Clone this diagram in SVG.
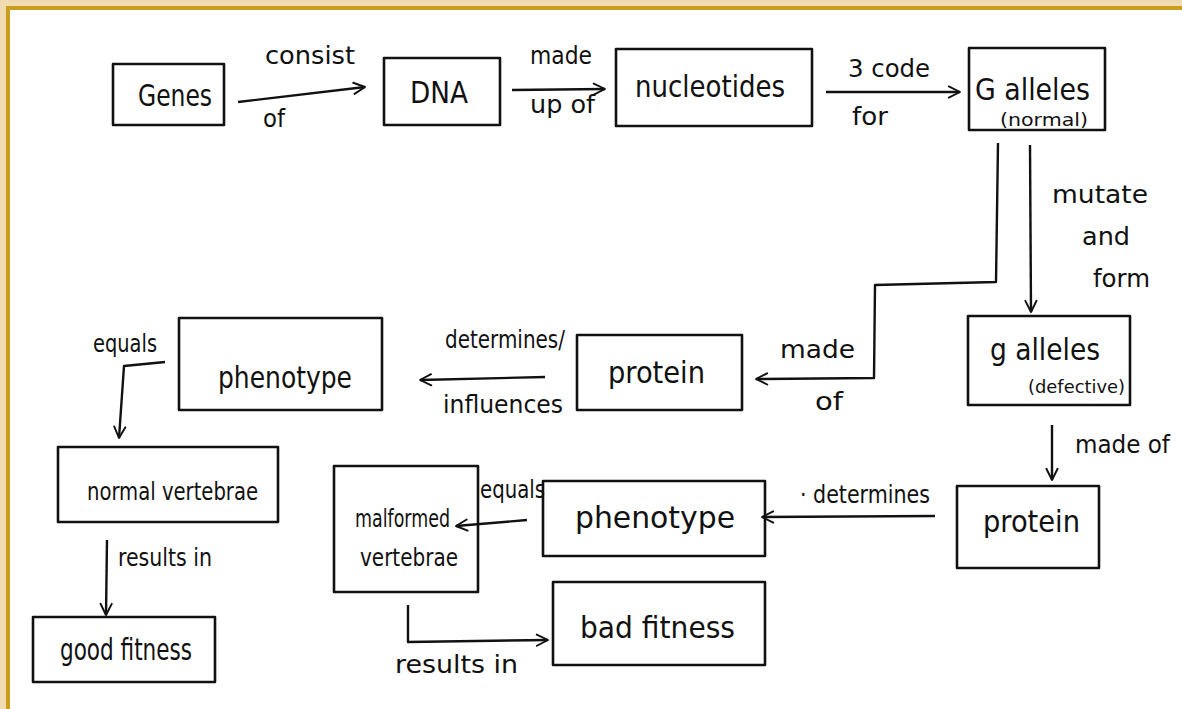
<svg xmlns="http://www.w3.org/2000/svg" width="1182" height="709" viewBox="0 0 1182 709">
<style>
.box{fill:none;stroke:#111;stroke-width:2.6;stroke-linejoin:round}
.edge{fill:none;stroke:#111;stroke-width:2.4;stroke-linejoin:round}
.t{font-family:"DejaVu Sans Condensed","Liberation Sans",sans-serif;fill:#111;text-anchor:start}
.n{font-size:30px}
.l{font-size:25px}
.s{font-size:17px}
</style>
<defs>
<marker id="ah" viewBox="0 0 20 20" refX="18" refY="10" markerWidth="16" markerHeight="16" markerUnits="userSpaceOnUse" orient="auto">
<path d="M4,3 L18,10 L4,17" fill="none" stroke="#111" stroke-width="2.4" stroke-linecap="round" stroke-linejoin="round"/>
</marker>
</defs>
<rect x="0" y="0" width="1182" height="709" fill="#fff"/>
<rect x="0" y="0" width="1182" height="6" fill="#f0dab2"/>
<rect x="0" y="0" width="6" height="709" fill="#f0dab2"/>
<rect x="6" y="6" width="1176" height="4" fill="#c99e1e"/>
<rect x="6" y="6" width="4" height="703" fill="#c99e1e"/>

<g id="connectors">
<path class="edge" d="M238,102 L365,87" marker-end="url(#ah)"/>
<path class="edge" d="M512,90 L605,89" marker-end="url(#ah)"/>
<path class="edge" d="M826,92 L960,92" marker-end="url(#ah)"/>
<path class="edge" d="M998,143 L996,282 L875,285 L874,378 L756,379" marker-end="url(#ah)"/>
<path class="edge" d="M1030,145 L1031,312" marker-end="url(#ah)"/>
<path class="edge" d="M1052,425 L1052,480" marker-end="url(#ah)"/>
<path class="edge" d="M935,516 L762,517" marker-end="url(#ah)"/>
<path class="edge" d="M527,520 L456,526" marker-end="url(#ah)"/>
<path class="edge" d="M408,605 L408,642 L548,640" marker-end="url(#ah)"/>
<path class="edge" d="M545,377 L420,380" marker-end="url(#ah)"/>
<path class="edge" d="M165,362 L124,366 L119,438" marker-end="url(#ah)"/>
<path class="edge" d="M107,540 L106,615" marker-end="url(#ah)"/>
<text class="t l" x="265" y="64" textLength="90" lengthAdjust="spacingAndGlyphs">consist</text>
<text class="t l" x="263" y="127" textLength="22" lengthAdjust="spacingAndGlyphs">of</text>
<text class="t l" x="530" y="64" textLength="62" lengthAdjust="spacingAndGlyphs">made</text>
<text class="t l" x="530" y="113" textLength="65" lengthAdjust="spacingAndGlyphs">up of</text>
<text class="t l" x="848" y="77" textLength="82" lengthAdjust="spacingAndGlyphs">3 code</text>
<text class="t l" x="852" y="125" textLength="36" lengthAdjust="spacingAndGlyphs">for</text>
<text class="t l" x="1052" y="203" textLength="96" lengthAdjust="spacingAndGlyphs">mutate</text>
<text class="t l" x="1082" y="245" textLength="48" lengthAdjust="spacingAndGlyphs">and</text>
<text class="t l" x="1093" y="287" textLength="57" lengthAdjust="spacingAndGlyphs">form</text>
<text class="t l" x="780" y="358" textLength="75" lengthAdjust="spacingAndGlyphs">made</text>
<text class="t l" x="815" y="410" textLength="28" lengthAdjust="spacingAndGlyphs">of</text>
<text class="t l" x="1075" y="453" textLength="95" lengthAdjust="spacingAndGlyphs">made of</text>
<text class="t l" x="800" y="503" textLength="130" lengthAdjust="spacingAndGlyphs">· determines</text>
<text class="t l" x="480" y="498" textLength="65" lengthAdjust="spacingAndGlyphs">equals</text>
<text class="t l" x="395" y="673" textLength="123" lengthAdjust="spacingAndGlyphs">results in</text>
<text class="t l" x="445" y="348" textLength="120" lengthAdjust="spacingAndGlyphs">determines/</text>
<text class="t l" x="443" y="413" textLength="120" lengthAdjust="spacingAndGlyphs">influences</text>
<text class="t l" x="93" y="352" textLength="64" lengthAdjust="spacingAndGlyphs">equals</text>
<text class="t l" x="118" y="566" textLength="94" lengthAdjust="spacingAndGlyphs">results in</text>
</g>

<g id="genes"><rect class="box" x="113" y="64" width="111" height="61"/><text class="t n" x="138" y="106" textLength="74" lengthAdjust="spacingAndGlyphs">Genes</text></g>
<g id="dna"><rect class="box" x="384" y="58" width="116" height="67"/><text class="t n" x="410" y="103" textLength="58" lengthAdjust="spacingAndGlyphs">DNA</text></g>
<g id="nucleotides"><rect class="box" x="616" y="49" width="196" height="77"/><text class="t n" x="635" y="97" textLength="150" lengthAdjust="spacingAndGlyphs">nucleotides</text></g>
<g id="G-alleles"><rect class="box" x="969" y="48" width="136" height="82"/><text class="t n" x="975" y="100" textLength="115" lengthAdjust="spacingAndGlyphs">G alleles</text><text class="t s" x="1000" y="126" textLength="88" lengthAdjust="spacingAndGlyphs">(normal)</text></g>
<g id="g-alleles"><rect class="box" x="968" y="316" width="162" height="89"/><text class="t n" x="990" y="360" textLength="110" lengthAdjust="spacingAndGlyphs">g alleles</text><text class="t s" x="1028" y="393" textLength="97" lengthAdjust="spacingAndGlyphs">(defective)</text></g>
<g id="protein-defective"><rect class="box" x="957" y="486" width="142" height="82"/><text class="t n" x="983" y="532" textLength="97" lengthAdjust="spacingAndGlyphs">protein</text></g>
<g id="phenotype-defective"><rect class="box" x="543" y="481" width="222" height="75"/><text class="t n" x="575" y="528" textLength="160" lengthAdjust="spacingAndGlyphs">phenotype</text></g>
<g id="malformed-vertebrae"><rect class="box" x="334" y="466" width="144" height="126"/><text class="t l" x="355" y="527" textLength="95" lengthAdjust="spacingAndGlyphs">malformed</text><text class="t l" x="360" y="566" textLength="98" lengthAdjust="spacingAndGlyphs">vertebrae</text></g>
<g id="bad-fitness"><rect class="box" x="553" y="582" width="212" height="83"/><text class="t n" x="580" y="638" textLength="155" lengthAdjust="spacingAndGlyphs">bad fitness</text></g>
<g id="protein-normal"><rect class="box" x="577" y="335" width="165" height="75"/><text class="t n" x="608" y="383" textLength="97" lengthAdjust="spacingAndGlyphs">protein</text></g>
<g id="phenotype-normal"><rect class="box" x="179" y="318" width="203" height="92"/><text class="t n" x="218" y="388" textLength="134" lengthAdjust="spacingAndGlyphs">phenotype</text></g>
<g id="normal-vertebrae"><rect class="box" x="58" y="447" width="220" height="75"/><text class="t l" x="87" y="500" textLength="171" lengthAdjust="spacingAndGlyphs">normal vertebrae</text></g>
<g id="good-fitness"><rect class="box" x="33" y="617" width="182" height="65"/><text class="t n" x="60" y="660" textLength="132" lengthAdjust="spacingAndGlyphs">good fitness</text></g>
</svg>
